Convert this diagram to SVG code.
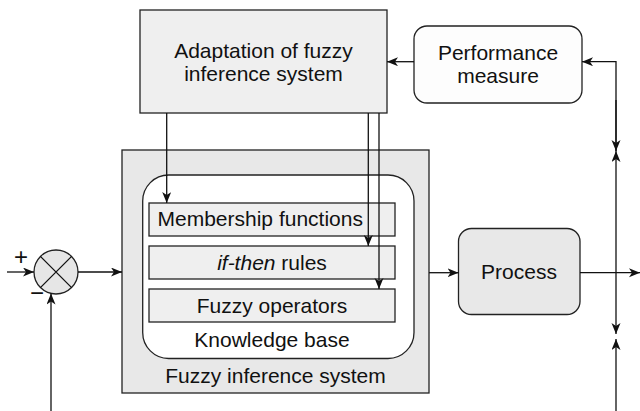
<svg xmlns="http://www.w3.org/2000/svg" width="640" height="411" viewBox="0 0 640 411">
<style>
text{font-family:"Liberation Sans",Arial,sans-serif;font-size:21px;fill:#111;}
.box{stroke:#222;stroke-width:1.3;}
.ln{fill:none;stroke:#111;stroke-width:1.3;}
.arr{marker-end:url(#ah);}
.sign{font-size:24px;}
</style>
<defs>
<marker id="ah" markerUnits="userSpaceOnUse" markerWidth="12" markerHeight="10" refX="11" refY="4.5" orient="auto">
<path d="M0,0 L11,4.5 L0,9 L3,4.5 z" fill="#111"/>
</marker>
</defs>
<rect width="640" height="411" fill="#fff"/>
<g id="adaptation">
<rect class="box" x="140" y="10" width="247" height="103" fill="#efefef"/>
<text x="263.5" y="58" text-anchor="middle">Adaptation of fuzzy</text>
<text x="263.5" y="81" text-anchor="middle">inference system</text>
</g>
<g id="performance">
<rect class="box" x="414" y="26" width="168" height="77" rx="13" fill="#fdfdfd"/>
<text x="498" y="60" text-anchor="middle">Performance</text>
<text x="498" y="83" text-anchor="middle">measure</text>
</g>
<g id="fis">
<rect class="box" x="122" y="150" width="307" height="243" fill="#e8e8e8"/>
<text x="275.5" y="382.5" text-anchor="middle">Fuzzy inference system</text>
</g>
<g id="knowledge-base">
<rect class="box" x="142.7" y="175" width="271.3" height="183.5" rx="26" fill="#fff"/>
<text x="272" y="346.5" text-anchor="middle">Knowledge base</text>
</g>
<g id="membership">
<rect class="box" x="149" y="203" width="246" height="33" fill="#efefef"/>
<text x="157.5" y="226">Membership functions</text>
</g>
<g id="rules">
<rect class="box" x="149" y="246" width="246" height="33" fill="#efefef"/>
<text x="272" y="270" text-anchor="middle"><tspan font-style="italic">if-then</tspan> rules</text>
</g>
<g id="operators">
<rect class="box" x="149" y="289" width="246" height="33" fill="#efefef"/>
<text x="272" y="313" text-anchor="middle">Fuzzy operators</text>
</g>
<g id="process">
<rect class="box" x="458.5" y="228.5" width="121.5" height="86" rx="13" fill="#e8e8e8"/>
<text x="519" y="278.5" text-anchor="middle">Process</text>
</g>
<g id="sum">
<circle class="box" cx="56" cy="272" r="22" fill="#e6e6e6"/>
<path class="ln" d="M40.4,256.4 L71.6,287.6 M71.6,256.4 L40.4,287.6"/>
<text class="sign" x="21" y="265" text-anchor="middle">+</text>
<text class="sign" x="37" y="301" text-anchor="middle">−</text>
</g>
<g id="connectors">
<path class="ln arr" d="M7,272 L34,272"/>
<path class="ln arr" d="M78,272 L122,272"/>
<path class="ln arr" d="M51,411 L51,293.5"/>
<path class="ln arr" d="M166.7,113 L166.7,203"/>
<path class="ln arr" d="M368.3,113 L368.3,246"/>
<path class="ln arr" d="M379,113 L379,289"/>
<path class="ln arr" d="M414,61.7 L387,61.7"/>
<path class="ln arr" d="M429,272.7 L458.5,272.7"/>
<path class="ln arr" d="M580,272.7 L640,272.7"/>
<path class="ln arr" d="M616,151 L616,61.7 L582,61.7"/>
<path class="ln arr" d="M616,100 L616,151"/>
<path class="ln arr" d="M616,272.7 L616,151"/>
<path class="ln arr" d="M616,272.7 L616,334"/>
<path class="ln arr" d="M616,411 L616,339"/>
</g>
</svg>
